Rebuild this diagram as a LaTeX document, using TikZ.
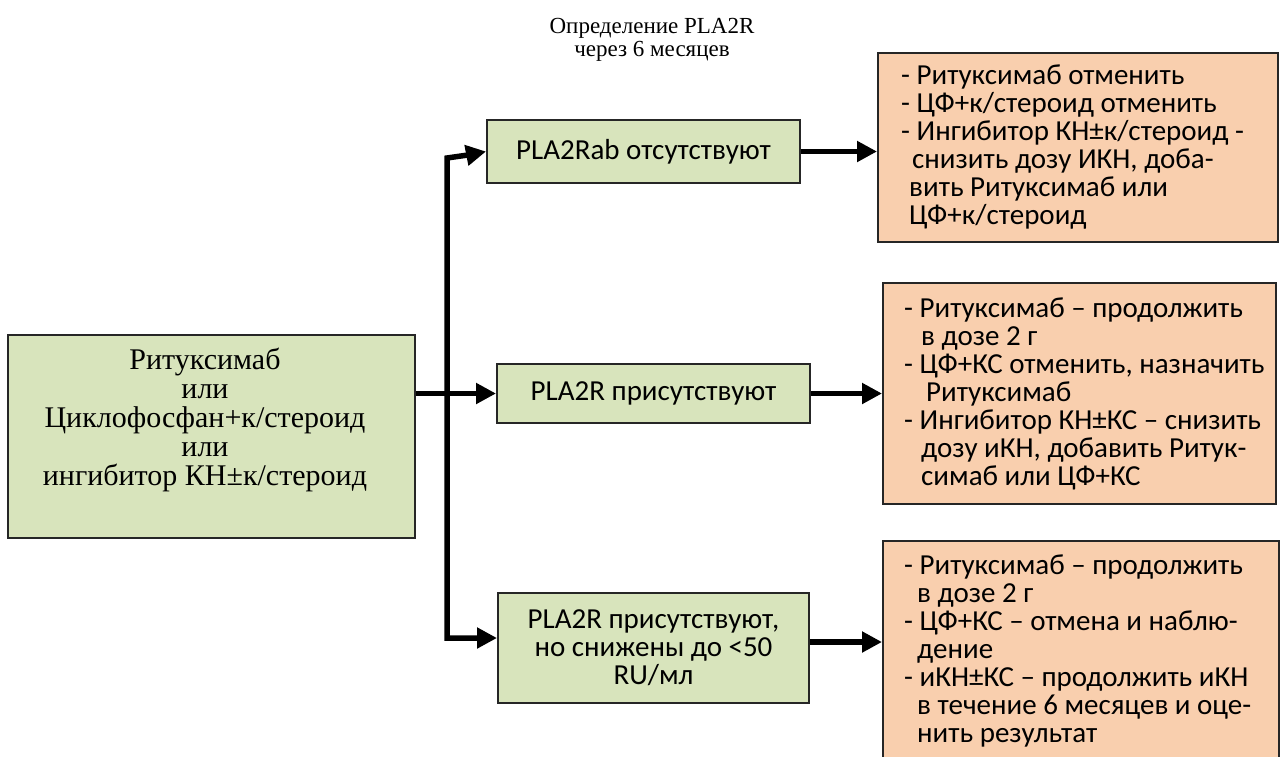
\documentclass[tikz,border=0pt]{standalone}
\usepackage{fontspec}
\setmainfont{Liberation Serif}
\newfontfamily\calibri{Carlito}
\usetikzlibrary{arrows.meta}
\definecolor{hellgruen}{HTML}{D8E4BC}
\definecolor{pfirsich}{HTML}{F9CFAE}
\begin{document}
\begin{tikzpicture}[x=1pt,y=-1pt,
	kasten/.style={draw=black!85,line width=2pt,inner sep=0pt},
	befund/.style={kasten,fill=hellgruen},
	massnahme/.style={kasten,fill=pfirsich},
	sans/.style={font=\calibri\fontsize{29}{28}\selectfont,inner sep=0pt},
	pfeil/.style={line width=5.5pt,-{Triangle[length=20pt,width=20pt]}}
]
\useasboundingbox (0,0) rectangle (1280,756);
\clip (0,0) rectangle (1280,756);
\node at (652,40) (titel) [align=center,font=\fontsize{23}{23}\selectfont] {Определение PLA2R\\через 6 месяцев};
\node at (211.5,436.5) (start) [befund,minimum width=407pt,minimum height=203pt] {};
\node at (205,420) (starttext) [align=center,font=\fontsize{30}{29}\selectfont] {Ритуксимаб\\или\\Циклофосфан+к/стероид\\или\\ингибитор КН±к/стероид};
\node at (643.5,151.5) (fehlt) [befund,sans,minimum width=313pt,minimum height=63pt] {PLA2Rab отсутствуют};
\node at (653.5,393.5) (da) [befund,sans,minimum width=313pt,minimum height=59pt] {PLA2R присутствуют};
\node at (653.5,648) (gesenkt) [befund,sans,align=center,minimum width=311pt,minimum height=110pt] {PLA2R присутствуют,\\но снижены до <50\\RU/мл};
\node at (1078,147.5) (rat1) [massnahme,minimum width=400pt,minimum height=189pt] {};
\node at (1079.5,393.5) (rat2) [massnahme,minimum width=393pt,minimum height=221pt] {};
\node at (1081,650.5) (rat3) [massnahme,minimum width=396pt,minimum height=219pt] {};
\node at (rat1.west) (rat1text) [sans,anchor=west,xshift=24pt,align=left] {- Ритуксимаб отменить\\- ЦФ+к/стероид отменить\\- Ингибитор КН±к/стероид -\\\hspace*{11pt}снизить дозу ИКН, доба-\\\hspace*{8pt}вить Ритуксимаб или\\\hspace*{8pt}ЦФ+к/стероид};
\node at (rat2.west) (rat2text) [sans,anchor=west,xshift=22pt,align=left] {- Ритуксимаб – продолжить\\\hspace*{17pt}в дозе 2 г\\- ЦФ+КС отменить, назначить\\\hspace*{22pt}Ритуксимаб\\- Ингибитор КН±КС – снизить\\\hspace*{17pt}дозу иКН, добавить Ритук-\\\hspace*{17pt}симаб или ЦФ+КС};
\node at (rat3.west) (rat3text) [sans,anchor=west,xshift=22pt,align=left] {- Ритуксимаб – продолжить\\\hspace*{13pt}в дозе 2 г\\- ЦФ+КС – отмена и наблю-\\\hspace*{13pt}дение\\- иКН±КС – продолжить иКН\\\hspace*{13pt}в течение 6 месяцев и оце-\\\hspace*{13pt}нить результат};
\coordinate (oben) at (447,158);
\coordinate (knick) at (468,155);
\coordinate (unten) at (447,638);
\draw[pfeil,{Triangle[length=20pt,width=20pt]}-{Triangle[length=20pt,width=20pt]}] (fehlt.west) -- (knick) -- (oben) -- (unten) -- (gesenkt.west |- unten);
\draw[pfeil] (start.east |- da.west) -- (da.west);
\draw[pfeil] (fehlt.east) -- (fehlt.east -| rat1.west);
\draw[pfeil] (da.east) -- (da.east -| rat2.west);
\draw[pfeil] ([yshift=6pt]gesenkt.east) -- ([yshift=6pt]gesenkt.east -| rat3.west);
\end{tikzpicture}
\end{document}
